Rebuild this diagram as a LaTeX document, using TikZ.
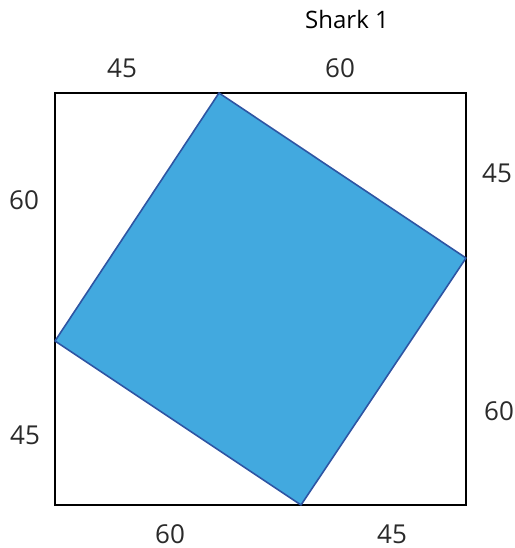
\documentclass[tikz,border=0pt]{standalone}
\usepackage{fontspec}
\setmainfont{Open Sans}
\usepackage{tikz}
\definecolor{tilefill}{HTML}{42A9DF}
\definecolor{tileedge}{HTML}{2E55A3}
\definecolor{labelgray}{HTML}{2A2A2A}
\tikzset{
  framebox/.style={draw=black, line width=2pt},
  tilesquare/.style={fill=tilefill, draw=tileedge, line width=1.6pt, line join=round},
  sidelabel/.style={font=\fontsize{26}{30}\selectfont, text=labelgray, inner sep=0pt},
  titlelabel/.style={font=\fontsize{24}{28}\selectfont, text=black, inner sep=0pt}
}
\begin{document}
\begin{tikzpicture}[x=1pt, y=-1pt]
  \useasboundingbox (0,0) rectangle (514,548);
  % outer frame
  \coordinate (tl) at (55,93);
  \coordinate (br) at (466,505);
  \draw[framebox] (tl) rectangle (br);
  % inner tilted square
  \coordinate (top) at (219,93);
  \coordinate (right) at (466,258);
  \coordinate (bottom) at (301,505);
  \coordinate (left) at (55,341);
  \draw[tilesquare] (top) -- (right) -- (bottom) -- (left) -- cycle;
  % labels
  \node[titlelabel] (title) at (347,20) {Shark 1};
  \node[sidelabel] (topA) at (122,68) {45};
  \node[sidelabel] (topB) at (340,68) {60};
  \node[sidelabel] (leftA) at (24,200) {60};
  \node[sidelabel] (leftB) at (25,435) {45};
  \node[sidelabel] (rightA) at (497,173) {45};
  \node[sidelabel] (rightB) at (499,411) {60};
  \node[sidelabel] (botA) at (170,534) {60};
  \node[sidelabel] (botB) at (392,534) {45};
\end{tikzpicture}
\end{document}
